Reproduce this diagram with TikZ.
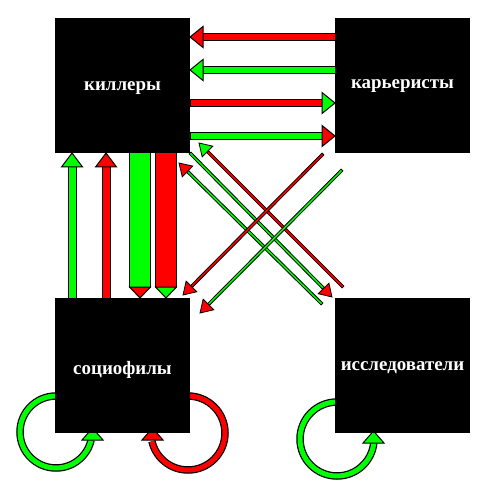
\documentclass[tikz,border=0pt]{standalone}
\usepackage{fontspec}
\setmainfont{Liberation Serif}
\usetikzlibrary{calc}
\definecolor{gr}{RGB}{0,255,0}
\definecolor{rd}{RGB}{255,0,0}
\newcommand\farrow[8]{% #1 tail, #2 tip, #3 shaft half-width, #4 head length, #5 head half-width, #6 shaft colour, #7 head colour, #8 outline width
  \coordinate (fab) at ($(#2)!#4!(#1)$);
  \filldraw[fill=#6,draw=black,line width=#8,line join=miter]
    ($(#1)!#3!90:(#2)$) -- ($(fab)!#3!-90:(#1)$) -- ($(fab)!#3!90:(#1)$) -- ($(#1)!#3!-90:(#2)$) -- cycle;
  \filldraw[fill=#7,draw=black,line width=#8,line join=miter]
    ($(fab)!#5!90:(#2)$) -- (#2) -- ($(fab)!#5!-90:(#2)$) -- cycle;
}
\tikzset{
  box/.style={fill=black,minimum width=135bp,minimum height=135bp,inner sep=0pt},
  lbl/.style={inner sep=0pt,text=white,font=\bfseries\fontsize{19}{22}\selectfont},
  loopout/.style={draw=black,line width=7.5bp},
  loopin/.style={line width=5bp},
  headtri/.style={draw=black,line width=1bp,line join=miter}
}
\begin{document}
\begin{tikzpicture}[x=1bp,y=-1bp]
\useasboundingbox (0,0) rectangle (500,500);
% endpoints
\coordinate (h1a) at (335,37);  \coordinate (h1b) at (190,37);
\coordinate (h2a) at (335,70);  \coordinate (h2b) at (190,70);
\coordinate (h3a) at (190,103); \coordinate (h3b) at (335,103);
\coordinate (h4a) at (190,136); \coordinate (h4b) at (335,136);
\coordinate (v1a) at (72,298);  \coordinate (v1b) at (72,153);
\coordinate (v2a) at (106,298); \coordinate (v2b) at (106,153);
\coordinate (v3a) at (140,153); \coordinate (v3b) at (140,298);
\coordinate (v4a) at (166,153); \coordinate (v4b) at (166,298);
\coordinate (d1a) at (343,287); \coordinate (d1b) at (199,143);
\coordinate (d2a) at (322,304); \coordinate (d2b) at (179,163);
\coordinate (d3a) at (190,153); \coordinate (d3b) at (332,297);
\coordinate (d4a) at (323,154); \coordinate (d4b) at (183,295);
\coordinate (d5a) at (342,170); \coordinate (d5b) at (200,313);
% horizontal arrows
\farrow{h1a}{h1b}{3.5bp}{13bp}{10.5bp}{rd}{rd}{1bp}
\farrow{h2a}{h2b}{3.5bp}{13bp}{10.5bp}{gr}{gr}{1bp}
\farrow{h3a}{h3b}{3.5bp}{13bp}{10.5bp}{rd}{gr}{1bp}
\farrow{h4a}{h4b}{3.5bp}{13bp}{10.5bp}{gr}{rd}{1bp}
% vertical arrows
\farrow{v1a}{v1b}{4bp}{14bp}{10.5bp}{gr}{gr}{1bp}
\farrow{v2a}{v2b}{4bp}{14bp}{10.5bp}{rd}{rd}{1bp}
\farrow{v3a}{v3b}{10.5bp}{11bp}{10.5bp}{gr}{rd}{1bp}
\farrow{v4a}{v4b}{10.5bp}{11bp}{10.5bp}{rd}{gr}{1bp}
% diagonal arrows
\farrow{d1a}{d1b}{1.3bp}{12bp}{7.5bp}{rd}{gr}{0.8bp}
\farrow{d2a}{d2b}{1.3bp}{12bp}{7.5bp}{gr}{rd}{0.8bp}
\farrow{d3a}{d3b}{1.3bp}{12bp}{7.5bp}{gr}{rd}{0.8bp}
\farrow{d4a}{d4b}{1.3bp}{12bp}{7.5bp}{rd}{rd}{0.8bp}
\farrow{d5a}{d5b}{1.3bp}{12bp}{7.5bp}{gr}{rd}{0.8bp}
% self loops
\draw[loopout] (56,396) arc[start angle=270,end angle=13,radius=36];
\draw[loopin,gr] (56,396) arc[start angle=270,end angle=13,radius=36];
\filldraw[headtri,fill=gr] (82,440) -- (103,440) -- (92.5,428) -- cycle;
\draw[loopout] (188,396) arc[start angle=-90,end angle=167,radius=37];
\draw[loopin,rd] (188,396) arc[start angle=-90,end angle=167,radius=37];
\filldraw[headtri,fill=rd] (142,440) -- (163,440) -- (152.5,428) -- cycle;
\draw[loopout] (337,402) arc[start angle=270,end angle=5,radius=37];
\draw[loopin,gr] (337,402) arc[start angle=270,end angle=5,radius=37];
\filldraw[headtri,fill=gr] (363,443) -- (384,443) -- (373.5,431) -- cycle;
% boxes
\node[box] (K) at (122.5,85.5) {};
\node[box] (C) at (402.5,85.5) {};
\node[box] (S) at (122.5,365.5) {};
\node[box] (E) at (402.5,365.5) {};
\node[lbl] (Kt) at ($(K)+(0,3)$) {киллеры};
\node[lbl] (Ct) at ($(C)+(0,1)$) {карьеристы};
\node[lbl] (St) at ($(S)+(0,4)$) {социофилы};
\node[lbl] (Et) at ($(E)+(0,2)$) {исследователи};
\end{tikzpicture}
\end{document}
